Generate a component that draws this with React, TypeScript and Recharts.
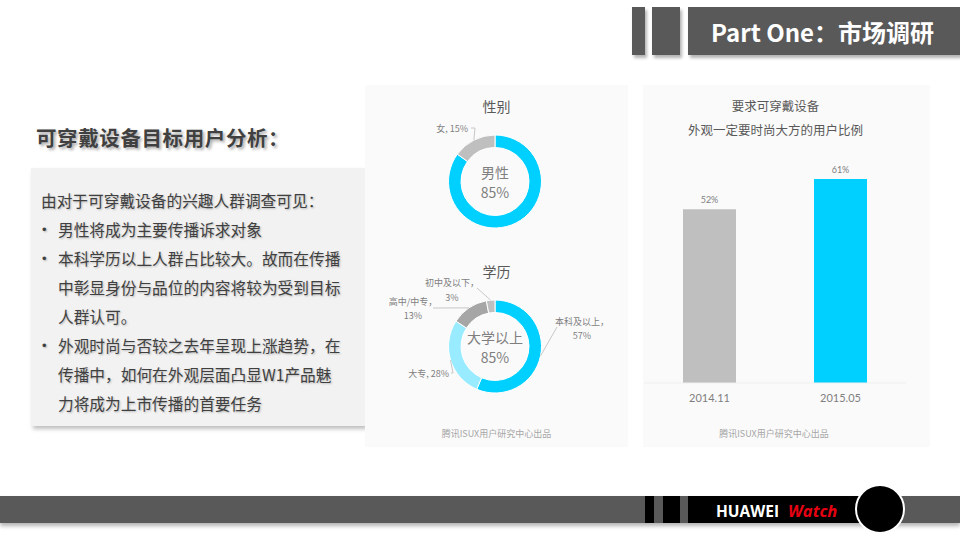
import * as React from 'react';
import { Bar, BarChart, Cell, LabelList, Pie, PieChart, XAxis, YAxis } from 'recharts';

// slide data
const genderNames = ['男', '女'];
const genderValues = [85, 15];
const genderColors = ['#00d0ff', '#bfbfbf'];

const eduNames = ['本科及以上', '大专', '高中/中专', '初中及以下'];
const eduValues = [57, 28, 13, 3];
const eduColors = ['#00d0ff', '#99ebff', '#a6a6a6', '#bfbfbf'];

const barPeriods = ['2014.11', '2015.05'];
const barValues = [52, 61];
const barColors = ['#bfbfbf', '#00d0ff'];

const introLines = [
  { text: '由对于可穿戴设备的兴趣人群调查可见：', bullet: false, indent: false },
  { text: '男性将成为主要传播诉求对象', bullet: true, indent: true },
  { text: '本科学历以上人群占比较大。故而在传播', bullet: true, indent: true },
  { text: '中彰显身份与品位的内容将较为受到目标', bullet: false, indent: true },
  { text: '人群认可。', bullet: false, indent: true },
  { text: '外观时尚与否较之去年呈现上涨趋势，在', bullet: true, indent: true },
  { text: '传播中，如何在外观层面凸显W1产品魅', bullet: false, indent: true },
  { text: '力将成为上市传播的首要任务', bullet: false, indent: true },
];

const genderData = genderNames.map((name, i) => ({ name, value: genderValues[i] }));
const eduData = eduNames.map((name, i) => ({ name, value: eduValues[i] }));
const barData = barPeriods.map((period, i) => ({ period, value: barValues[i] }));

// where each slice label sits, relative to the pie centre
type LabelSpot = {
  elbow: [number, number];
  end: [number, number];
  lines: [number, number][];
  anchor: 'start' | 'middle' | 'end';
  split: boolean;
} | null;

const genderSpots: LabelSpot[] = [
  null,
  { elbow: [-20, -53.5], end: [-24, -53.5], lines: [[-27, -53.5]], anchor: 'end', split: false },
];

const eduSpots: LabelSpot[] = [
  { elbow: [62, -19.5], end: [62, -19.5], lines: [[87, -25.5], [87, -11.5]], anchor: 'middle', split: true },
  { elbow: [-42, 26.5], end: [-44, 26.5], lines: [[-46, 26.5]], anchor: 'end', split: false },
  { elbow: [-62, -38.5], end: [-62, -38.5], lines: [[-82, -45.5], [-82, -31.5]], anchor: 'middle', split: true },
  { elbow: [-18, -58.5], end: [-18, -58.5], lines: [[-43, -64.5], [-43, -49.5]], anchor: 'middle', split: true },
];

const RAD = Math.PI / 180;
const FONT = '"Noto Sans CJK SC", "Noto Sans", sans-serif';

function makeLabel(spots: LabelSpot[]) {
  return (props: any) => {
    const { cx, cy, midAngle, outerRadius, index, name, value } = props;
    const spot = spots[index];
    if (!spot) return null;
    const sx = cx + outerRadius * Math.cos(-midAngle * RAD);
    const sy = cy + outerRadius * Math.sin(-midAngle * RAD);
    const texts = spot.split ? [`${name}，`, `${value}%`] : [`${name}, ${value}%`];
    return (
      <g>
        <polyline
          points={`${sx},${sy} ${cx + spot.elbow[0]},${cy + spot.elbow[1]} ${cx + spot.end[0]},${cy + spot.end[1]}`}
          fill="none"
          stroke="#c8c8c8"
          strokeWidth={1}
        />
        {texts.map((t, i) => (
          <text
            key={i}
            x={cx + spot.lines[i][0]}
            y={cy + spot.lines[i][1]}
            textAnchor={spot.anchor}
            dominantBaseline="central"
            fontSize={9}
            fill="#7f7f7f"
            fontFamily={FONT}
          >
            {t}
          </text>
        ))}
      </g>
    );
  };
}

function Donut({ data, colors, spots, top, height, centre }: any) {
  return (
    <div style={{ position: 'absolute', left: 365, top, width: 263, height }}>
      <PieChart width={263} height={height} margin={{ top: 0, right: 0, bottom: 0, left: 0 }}>
        <Pie
          data={data}
          dataKey="value"
          nameKey="name"
          cx={130}
          cy={96.5}
          innerRadius={34}
          outerRadius={46.5}
          startAngle={90}
          endAngle={-270}
          stroke="#ffffff"
          strokeWidth={1}
          label={makeLabel(spots)}
          labelLine={false}
          isAnimationActive={false}
        >
          {data.map((_: any, i: number) => (
            <Cell key={i} fill={colors[i]} />
          ))}
        </Pie>
      </PieChart>
      <div
        style={{
          position: 'absolute',
          left: 80,
          width: 100,
          top: 77,
          textAlign: 'center',
          fontSize: 14,
          lineHeight: '20px',
          color: '#7f7f7f',
          fontFamily: FONT,
        }}
      >
        {centre[0]}
        <br />
        {centre[1]}
      </div>
    </div>
  );
}

const abs = (s: React.CSSProperties): React.CSSProperties => ({ position: 'absolute', ...s });

export default function App() {
  return (
    <div
      style={{
        position: 'absolute',
        left: 0,
        top: 0,
        width: 960,
        height: 540,
        background: '#ffffff',
        overflow: 'hidden',
        fontFamily: FONT,
      }}
    >
      {/* header */}
      <div style={abs({ left: 632, top: 7, width: 13, height: 48, background: '#595959', boxShadow: '2px 3px 3px rgba(0,0,0,0.3)' })} />
      <div style={abs({ left: 652, top: 7, width: 28, height: 48, background: '#595959', boxShadow: '2px 3px 3px rgba(0,0,0,0.3)' })} />
      <div
        style={abs({
          left: 688,
          top: 7,
          width: 272,
          height: 48,
          background: '#595959',
          boxShadow: '2px 3px 3px rgba(0,0,0,0.3)',
          color: '#ffffff',
          fontSize: 24,
          fontWeight: 700,
          lineHeight: '50px',
          paddingLeft: 23,
          boxSizing: 'border-box',
          whiteSpace: 'nowrap',
        })}
      >
        Part One：市场调研
      </div>

      {/* left text */}
      <div
        style={abs({
          left: 36,
          top: 123,
          fontSize: 20.5,
          fontWeight: 700,
          color: '#404040',
          lineHeight: '28px',
          letterSpacing: 0.6,
          textShadow: '2px 2px 3px rgba(0,0,0,0.35)',
          whiteSpace: 'nowrap',
        })}
      >
        可穿戴设备目标用户分析：
      </div>
      <div style={abs({ left: 31, top: 168, width: 334, height: 258, background: '#f2f2f2', boxShadow: '2px 3px 4px rgba(0,0,0,0.25)' })} />
      {introLines.map((l, i) => (
        <div
          key={i}
          style={abs({
            left: l.indent ? 58 : 41,
            top: 186 + i * 29,
            fontSize: 15.7,
            lineHeight: '29px',
            color: '#404040',
            whiteSpace: 'nowrap',
            textShadow: '1px 1px 2px rgba(0,0,0,0.25)',
          })}
        >
          {l.bullet && <span style={{ position: 'absolute', left: -16, fontSize: 13, fontFamily: 'Arial, sans-serif' }}>•</span>}
          {l.text}
        </div>
      ))}

      {/* pie panel */}
      <div style={abs({ left: 365, top: 85, width: 263, height: 362, background: '#fafafa' })} />
      <div style={abs({ left: 365, top: 96, width: 263, textAlign: 'center', fontSize: 14, color: '#595959', lineHeight: '20px' })}>性别</div>
      <Donut data={genderData} colors={genderColors} spots={genderSpots} top={85} height={165} centre={['男性', '85%']} />
      <div style={abs({ left: 365, top: 261, width: 263, textAlign: 'center', fontSize: 14, color: '#595959', lineHeight: '20px' })}>学历</div>
      <Donut data={eduData} colors={eduColors} spots={eduSpots} top={250} height={197} centre={['大学以上', '85%']} />
      <div style={abs({ left: 365, top: 427, width: 263, textAlign: 'center', fontSize: 9, color: '#a6a6a6', lineHeight: '13px' })}>
        腾讯ISUX用户研究中心出品
      </div>

      {/* bar panel */}
      <div style={abs({ left: 643, top: 85, width: 287, height: 362, background: '#fafafa' })} />
      <div style={abs({ left: 643, top: 95, width: 265, textAlign: 'center', fontSize: 12.5, color: '#595959', lineHeight: '21px' })}>
        <div>要求可穿戴设备</div>
        <div style={{ marginTop: 3 }}>外观一定要时尚大方的用户比例</div>
      </div>
      <div style={abs({ left: 643, top: 85 })}>
        <BarChart width={287} height={362} data={barData} margin={{ top: 64, right: 24, bottom: 34, left: 1 }}>
          <XAxis
            dataKey="period"
            height={30}
            tickLine={false}
            tickSize={0}
            tickMargin={11}
            axisLine={{ stroke: '#efefef' }}
            tick={{ fill: '#7f7f7f', fontSize: 11, fontFamily: 'Lato, "Noto Sans", sans-serif' }}
          />
          <YAxis hide domain={[0, 70]} />
          <Bar dataKey="value" barSize={53} isAnimationActive={false}>
            {barData.map((_, i) => (
              <Cell key={i} fill={barColors[i]} />
            ))}
            <LabelList
              dataKey="value"
              position="top"
              offset={6}
              formatter={(v: any) => `${v}%`}
              style={{ fill: '#7f7f7f', fontSize: 9, fontFamily: 'Lato, "Noto Sans", sans-serif' }}
            />
          </Bar>
        </BarChart>
      </div>
      <div style={abs({ left: 643, top: 427, width: 262, textAlign: 'center', fontSize: 9, color: '#a6a6a6', lineHeight: '13px' })}>
        腾讯ISUX用户研究中心出品
      </div>

      {/* footer strip */}
      <div style={abs({ left: 0, top: 496, width: 960, height: 27, background: '#595959', boxShadow: '0 3px 4px rgba(0,0,0,0.3)' })} />
      <div style={abs({ left: 645, top: 496, width: 9, height: 27, background: '#000000' })} />
      <div style={abs({ left: 663, top: 496, width: 17, height: 27, background: '#000000' })} />
      <div style={abs({ left: 688, top: 496, width: 180, height: 27, background: '#000000' })} />
      <div style={abs({ left: 716, top: 496, height: 27, lineHeight: '29px', whiteSpace: 'nowrap' })}>
        <span style={{ color: '#ffffff', fontSize: 15.5, fontWeight: 700, fontFamily: '"Liberation Sans Narrow", "Open Sans", sans-serif' }}>HUAWEI</span>
        <span
          style={{
            color: '#e60012',
            fontSize: 16.5,
            fontWeight: 700,
            fontStyle: 'italic',
            marginLeft: 9,
            fontFamily: '"Liberation Sans Narrow", "Open Sans", sans-serif',
          }}
        >
          Watch
        </span>
      </div>
      <div
        style={abs({
          left: 855,
          top: 484,
          width: 46,
          height: 46,
          borderRadius: '50%',
          background: '#000000',
          border: '2px solid #ffffff',
        })}
      />
    </div>
  );
}
